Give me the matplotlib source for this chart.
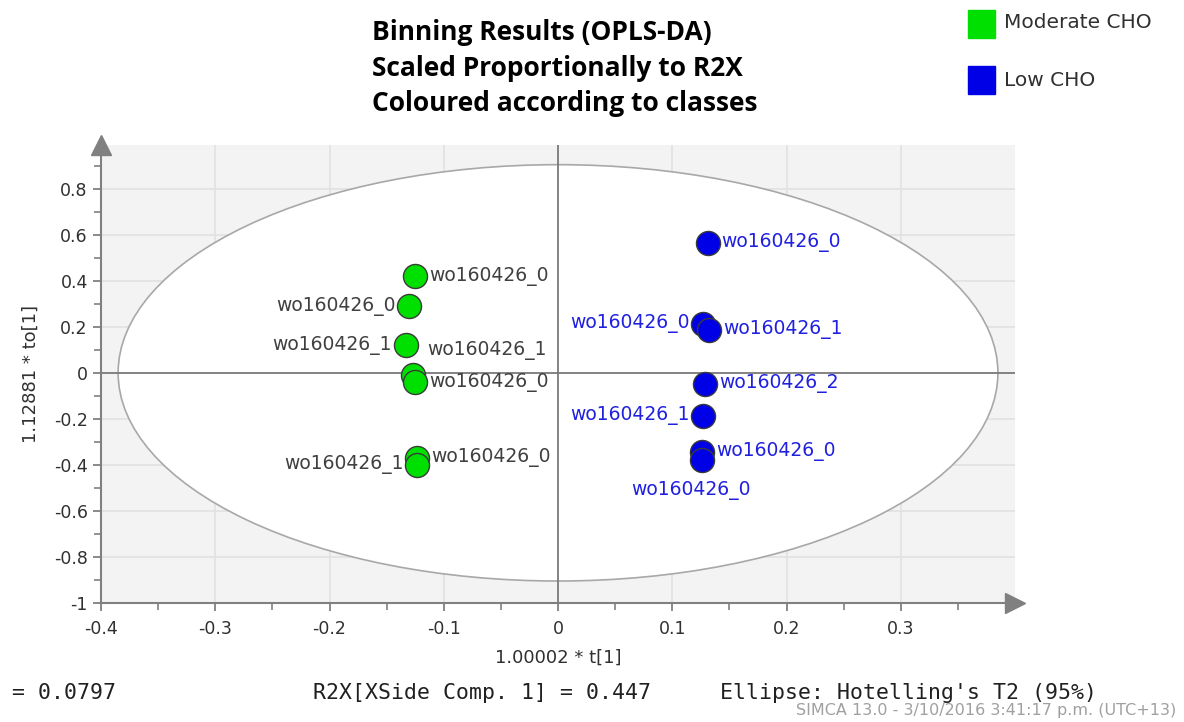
import numpy as np
import matplotlib.pyplot as plt
from matplotlib.patches import Ellipse, Rectangle

# scores, moderate CHO (green)
mod_t = [-0.125, -0.130, -0.133, -0.127, -0.125, -0.123, -0.123]
mod_to = [0.42, 0.29, 0.12, -0.01, -0.04, -0.37, -0.40]
mod_names = ["wo160426_0", "wo160426_0", "wo160426_1", "wo160426_1",
             "wo160426_0", "wo160426_0", "wo160426_1"]
mod_side = ["r", "l", "l", "ru", "r", "r", "l"]

# scores, low CHO (blue)
low_t = [0.131, 0.127, 0.132, 0.129, 0.127, 0.126, 0.126]
low_to = [0.565, 0.213, 0.187, -0.048, -0.187, -0.343, -0.378]
low_names = ["wo160426_0", "wo160426_0", "wo160426_1", "wo160426_2",
             "wo160426_1", "wo160426_0", "wo160426_0"]
low_side = ["r", "l", "r", "r", "l", "r", "b"]

ell_a = 0.385
ell_b = 0.905

xticks = [-0.4, -0.3, -0.2, -0.1, 0, 0.1, 0.2, 0.3]
xtick_labels = ["-0.4", "-0.3", "-0.2", "-0.1", "0", "0.1", "0.2", "0.3"]
yticks = [-1, -0.8, -0.6, -0.4, -0.2, 0, 0.2, 0.4, 0.6, 0.8]
ytick_labels = ["-1", "-0.8", "-0.6", "-0.4", "-0.2", "0", "0.2", "0.4", "0.6", "0.8"]

GREEN = "#00e000"
BLUE = "#0000e6"
AXC = "#808080"

fig = plt.figure(figsize=(11.84, 7.22), dpi=100)
ax = fig.add_axes([0.0853, 0.165, 0.772, 0.634])
ax.set_xlim(-0.4, 0.4)
ax.set_ylim(-1, 0.99)
ax.set_facecolor("#f3f3f3")

ax.add_patch(Ellipse((0, 0), 2 * ell_a, 2 * ell_b, facecolor="white",
                     edgecolor="#a8a8a8", lw=1.2, zorder=1))

for x in xticks[1:]:
    if x != 0:
        ax.axvline(x, color="#e2e2e2", lw=1.2, zorder=0.5)
for y in yticks[1:]:
    if y != 0:
        ax.axhline(y, color="#e2e2e2", lw=1.2, zorder=0.5)
ax.axhline(0, color="#7a7a7a", lw=1.3, zorder=1.5)
ax.axvline(0, color="#7a7a7a", lw=1.3, zorder=1.5)

ax.scatter(mod_t, mod_to, s=300, c=GREEN, edgecolors="#3a3a3a", linewidths=1.0, zorder=3)
ax.scatter(low_t, low_to, s=300, c=BLUE, edgecolors="#3a3a3a", linewidths=1.0, zorder=3)

LFS = 13.5

def put_labels(xs, ys, names, sides, color):
    for x, y, n, s in zip(xs, ys, names, sides):
        if s == "r":
            ax.annotate(n, (x, y), xytext=(10, 0), textcoords="offset points",
                        ha="left", va="center", color=color, fontsize=LFS, zorder=4)
        elif s == "ru":
            ax.annotate(n, (x, y), xytext=(10, 18), textcoords="offset points",
                        ha="left", va="center", color=color, fontsize=LFS, zorder=4)
        elif s == "l":
            ax.annotate(n, (x, y), xytext=(-10, 0), textcoords="offset points",
                        ha="right", va="center", color=color, fontsize=LFS, zorder=4)
        else:
            ax.annotate(n, (x, y), xytext=(-8, -22), textcoords="offset points",
                        ha="center", va="center", color=color, fontsize=LFS, zorder=4)

put_labels(mod_t, mod_to, mod_names, mod_side, "#404040")
put_labels(low_t, low_to, low_names, low_side, "#2020e0")

for side in ["top", "right"]:
    ax.spines[side].set_visible(False)
for side in ["left", "bottom"]:
    ax.spines[side].set_color(AXC)
    ax.spines[side].set_linewidth(1.5)

ax.set_xticks(xticks)
ax.set_xticklabels(xtick_labels)
ax.set_yticks(yticks)
ax.set_yticklabels(ytick_labels)
ax.set_xticks(np.arange(-0.35, 0.4, 0.1), minor=True)
ax.set_yticks(np.arange(-0.9, 0.95, 0.2), minor=True)
ax.tick_params(which="major", length=6, color=AXC, width=1.3, labelsize=12.5, labelcolor="#303030")
ax.tick_params(which="minor", length=5, color=AXC, width=1.2)
ax.tick_params(axis="x", pad=6)

# arrow heads on axes
ax.plot(0, 1, marker="^", markersize=14, color=AXC, transform=ax.transAxes, clip_on=False, zorder=5)
ax.plot(1, 0, marker=">", markersize=14, color=AXC, transform=ax.transAxes, clip_on=False, zorder=5)

ax.set_xlabel("1.00002 * t[1]", fontsize=13, color="#303030", labelpad=8)
ax.set_ylabel("1.12881 * to[1]", fontsize=13, color="#303030", labelpad=10)

title = "Binning Results (OPLS-DA)\nScaled Proportionally to R2X\nColoured according to classes"
fig.text(0.314, 0.973, title, ha="left", va="top", fontsize=19, fontweight="bold",
         family="Open Sans", linespacing=1.4)

# legend
fig.patches.append(Rectangle((968 / 1184, 1 - 38 / 722), 27 / 1184, 28 / 722,
                             transform=fig.transFigure, color=GREEN))
fig.patches.append(Rectangle((968 / 1184, 1 - 94 / 722), 27 / 1184, 28 / 722,
                             transform=fig.transFigure, color=BLUE))
fig.text(1004 / 1184, 1 - 22 / 722, "Moderate CHO", fontsize=14.5, va="center", color="#303030")
fig.text(1004 / 1184, 1 - 80 / 722, "Low CHO", fontsize=14.5, va="center", color="#303030")

# footer
FFS = 15.5
fig.text(12 / 1184, 1 - 693 / 722, "= 0.0797", family="DejaVu Sans Mono", fontsize=FFS,
         va="center", color="#202020")
fig.text(313 / 1184, 1 - 693 / 722, "R2X[XSide Comp. 1] = 0.447", family="DejaVu Sans Mono",
         fontsize=FFS, va="center", color="#202020")
fig.text(720 / 1184, 1 - 693 / 722, "Ellipse: Hotelling's T2 (95%)", family="DejaVu Sans Mono",
         fontsize=FFS, va="center", color="#202020")
fig.text(1176 / 1184, 1 - 711 / 722, "SIMCA 13.0 - 3/10/2016 3:41:17 p.m. (UTC+13)",
         fontsize=11.5, color="#a0a0a0", ha="right", va="center")

fig.savefig("out.png", dpi=100, facecolor="white")
